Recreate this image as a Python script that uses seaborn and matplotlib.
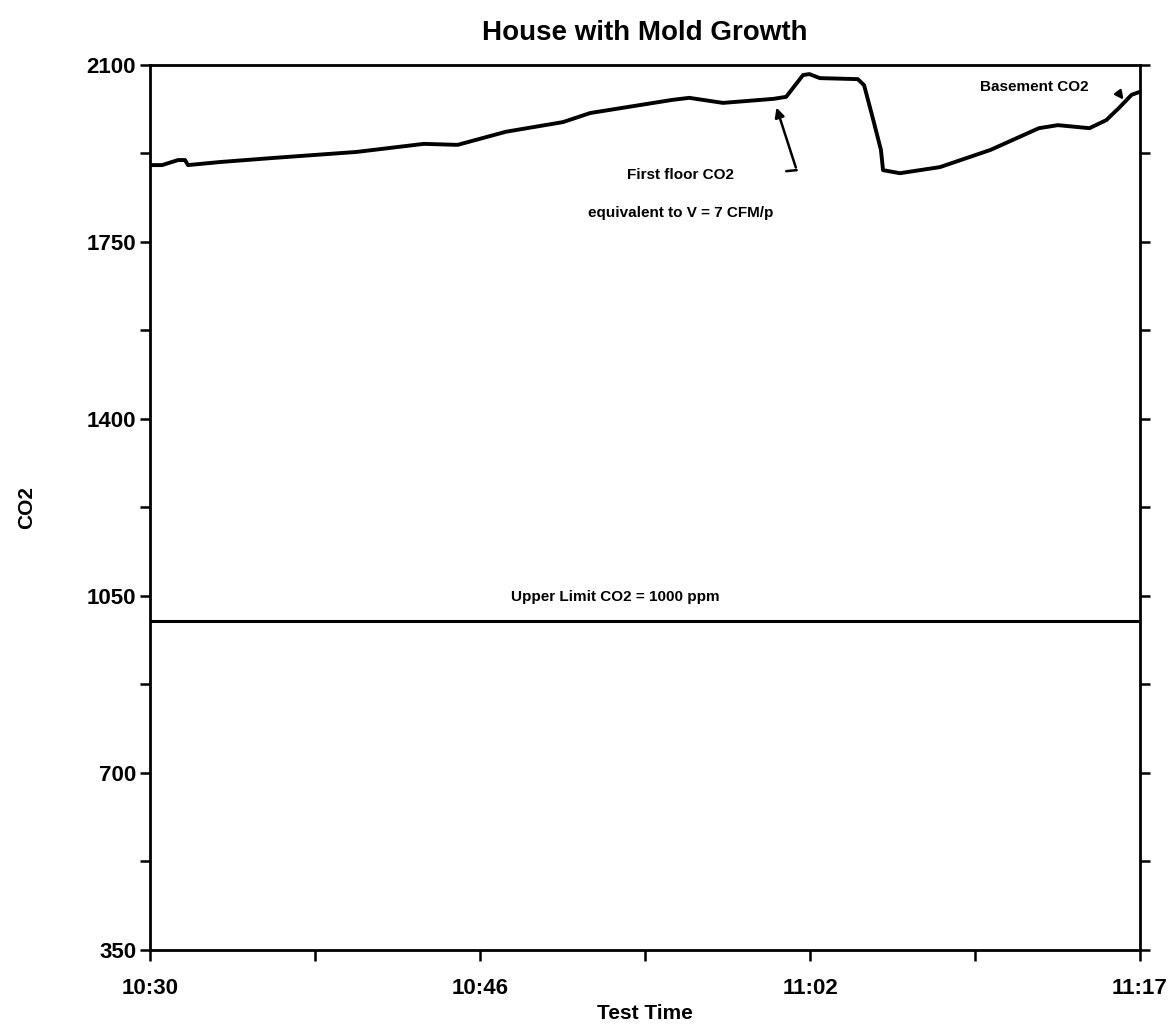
import numpy as np
import pandas as pd
import matplotlib
matplotlib.use("Agg")
import matplotlib.pyplot as plt
import seaborn as sns

# minutos desde las 10:30 y CO2 (ppm)
minutos = [0.1, 0.57, 1.33, 1.66, 1.8, 3.3, 5.8, 9.8, 13.0, 14.6, 16.9, 19.6, 20.9,
           23.3, 24.8, 25.6, 27.2, 29.6, 30.2, 31.0, 31.3, 31.8, 33.6, 33.9, 34.3,
           34.7, 34.8, 35.6, 37.5, 39.9, 42.2, 43.1, 44.6, 45.4, 46.0, 46.6, 47.0]
co2 = [1902, 1902, 1912, 1912, 1902, 1908, 1916, 1928, 1944, 1942, 1968, 1987, 2005,
       2021, 2031, 2035, 2025, 2033, 2037, 2080, 2082, 2074, 2072, 2060, 1997,
       1932, 1892, 1886, 1898, 1932, 1975, 1981, 1975, 1991, 2015, 2041, 2047]
limite_co2 = 1000

y_ticks = [350, 700, 1050, 1400, 1750, 2100]
x_tick_pos = [0, 47 / 3, 94 / 3, 47]
x_tick_labels = ["10:30", "10:46", "11:02", "11:17"]

df = pd.DataFrame({"t": minutos, "co2": co2})

sns.set_style("white")
plt.rcParams["font.family"] = ["Liberation Sans", "DejaVu Sans"]
plt.rcParams["font.weight"] = "bold"
plt.rcParams["text.color"] = "black"
plt.rcParams["axes.labelcolor"] = "black"
plt.rcParams["xtick.color"] = "black"
plt.rcParams["ytick.color"] = "black"

fig = plt.figure(figsize=(11.76, 10.28), dpi=100)
ax = fig.add_axes([0.1276, 0.0759, 0.8418, 0.8609])

sns.lineplot(data=df, x="t", y="co2", color="black", linewidth=2.8, ax=ax, sort=False)
ax.axhline(limite_co2, color="black", linewidth=2.2)

ax.set_xlim(0, 47)
ax.set_ylim(350, 2100)
ax.set_yticks(y_ticks)
ax.set_yticks(np.arange(350, 2101, 175), minor=True)
ax.set_xticks(x_tick_pos)
ax.set_xticklabels(x_tick_labels)
ax.set_xticks([47 / 6, 47 / 2, 47 * 5 / 6], minor=True)

for s in ax.spines.values():
    s.set_linewidth(2)
    s.set_color("black")

ax.tick_params(axis="both", which="both", direction="out", color="black", width=1.8)
ax.tick_params(axis="y", which="both", length=7, right=True, left=True)
ax.tick_params(axis="x", which="both", length=8, bottom=True, top=False)
ax.tick_params(axis="y", which="major", labelsize=16, pad=3)
ax.tick_params(axis="x", which="major", labelsize=16, pad=12)
for lab in ax.get_xticklabels() + ax.get_yticklabels():
    lab.set_fontweight("bold")

ax.set_xlabel("Test Time", fontsize=15, fontweight="bold", labelpad=4)
ax.set_ylabel("CO2", fontsize=15, fontweight="bold", labelpad=36)
ax.set_title("House with Mold Growth", fontsize=20, fontweight="bold", pad=18)

ax.text(25.2, 1882, "First floor CO2", ha="center", va="center", fontsize=11, fontweight="bold")
ax.text(25.2, 1807, "equivalent to V = 7 CFM/p", ha="center", va="center", fontsize=11, fontweight="bold")
ax.plot([30.2, 30.7], [1890, 1892], color="black", linewidth=1.8)
ax.annotate("", xy=(29.7, 2021), xytext=(30.7, 1892),
            arrowprops=dict(arrowstyle="-|>", color="black", lw=1.8, mutation_scale=14))
ax.text(42.0, 2056, "Basement CO2", ha="center", va="center", fontsize=11, fontweight="bold")
ax.annotate("", xy=(46.3, 2027), xytext=(45.9, 2049),
            arrowprops=dict(arrowstyle="-|>", color="black", lw=1.8, mutation_scale=12))
ax.text(22.1, 1048, "Upper Limit CO2 = 1000 ppm", ha="center", va="center", fontsize=11, fontweight="bold")

fig.savefig("out.png", dpi=100)
